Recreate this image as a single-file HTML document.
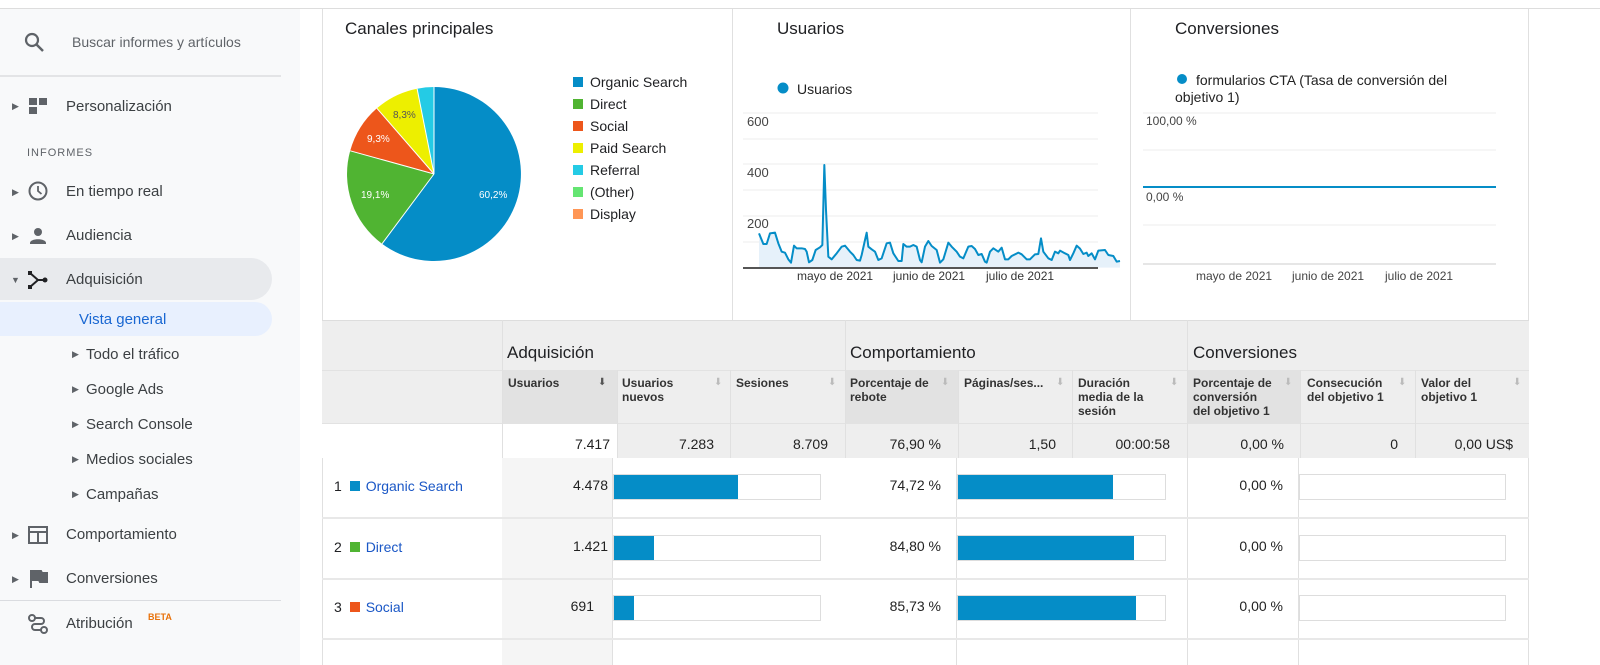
<!DOCTYPE html><html><head><meta charset="utf-8"><style>
*{margin:0;padding:0;box-sizing:border-box}
body{width:1600px;height:665px;overflow:hidden;background:#fff;font-family:"Liberation Sans",sans-serif;color:#202124;position:relative}
.a{position:absolute;white-space:nowrap}
.side{position:absolute;left:0;top:9px;width:300px;height:656px;background:#f8f9fa}
.nav{font-size:15px;color:#3c4043}
.tri{font-size:9px;color:#5f6368}
.h{font-size:12px;font-weight:bold;color:#333;line-height:14px}
.n{font-size:14px;color:#222;text-align:right}
.lnk{color:#1a57c6;font-size:14px}
.bar{position:absolute;height:26px;border:1px solid #ddd;background:#fff}
.bar i{position:absolute;left:0;top:0;bottom:0;background:#058dc7}
.ar{position:absolute;font-size:10px;color:#bbb}
</style></head><body>
<div class="a" style="left:0;top:8px;width:1600px;height:1px;background:#ddd"></div>
<div class="side"></div>
<svg class="a" style="left:24px;top:32px" width="22" height="22"><circle cx="8" cy="8" r="6" fill="none" stroke="#5f6368" stroke-width="2.2"/><line x1="12.5" y1="12.5" x2="19" y2="19" stroke="#5f6368" stroke-width="2.5"/></svg>
<div class="a" style="left:72px;top:34px;font-size:14px;color:#5f6368">Buscar informes y artículos</div>
<div class="a" style="left:0;top:75px;width:281px;height:2px;background:#e3e4e6"></div>
<div class="a tri" style="left:12px;top:101px">▶</div>
<div class="a" style="left:29px;top:98px;width:8px;height:7px;background:#5f6368"></div><div class="a" style="left:39px;top:98px;width:8px;height:7px;background:#5f6368"></div><div class="a" style="left:29px;top:107px;width:8px;height:7px;background:#5f6368"></div>
<div class="a nav" style="left:66px;top:98px">Personalización</div>
<div class="a" style="left:27px;top:147px;font-size:11px;color:#5f6368;letter-spacing:1px">INFORMES</div>
<div class="a tri" style="left:12px;top:187px">▶</div>
<svg class="a" style="left:27px;top:180px" width="22" height="22"><circle cx="11" cy="11" r="8.5" fill="none" stroke="#5f6368" stroke-width="2"/><path d="M11 6v5l3.5 3" fill="none" stroke="#5f6368" stroke-width="1.8"/></svg>
<div class="a nav" style="left:66px;top:183px">En tiempo real</div>
<div class="a tri" style="left:12px;top:231px">▶</div>
<svg class="a" style="left:28px;top:226px" width="20" height="20"><circle cx="10" cy="6" r="4" fill="#5f6368"/><path d="M2 17c0-5 16-5 16 0v1H2z" fill="#5f6368"/></svg>
<div class="a nav" style="left:66px;top:227px">Audiencia</div>
<div class="a" style="left:0;top:258px;width:272px;height:42px;background:#e8eaed;border-radius:0 21px 21px 0"></div>
<div class="a tri" style="left:11px;top:275px">▼</div>
<svg class="a" style="left:27px;top:269px" width="22" height="22"><path d="M3 4l8 7-8 7M11 11h6" fill="none" stroke="#202124" stroke-width="2"/><rect x="1" y="2" width="4" height="4" fill="#202124"/><rect x="1" y="16" width="4" height="4" fill="#202124"/><circle cx="18" cy="11" r="2.5" fill="#202124"/></svg>
<div class="a nav" style="left:66px;top:271px">Adquisición</div>
<div class="a" style="left:0;top:302px;width:272px;height:34px;background:#e8f0fe;border-radius:0 17px 17px 0"></div>
<div class="a" style="left:79px;top:311px;font-size:15px;color:#1967d2">Vista general</div>
<div class="a tri" style="left:72px;top:349px">▶</div><div class="a nav" style="left:86px;top:346px">Todo el tráfico</div>
<div class="a tri" style="left:72px;top:384px">▶</div><div class="a nav" style="left:86px;top:381px">Google Ads</div>
<div class="a tri" style="left:72px;top:419px">▶</div><div class="a nav" style="left:86px;top:416px">Search Console</div>
<div class="a tri" style="left:72px;top:454px">▶</div><div class="a nav" style="left:86px;top:451px">Medios sociales</div>
<div class="a tri" style="left:72px;top:489px">▶</div><div class="a nav" style="left:86px;top:486px">Campañas</div>
<div class="a tri" style="left:12px;top:530px">▶</div>
<svg class="a" style="left:27px;top:524px" width="22" height="22"><rect x="2" y="3" width="18" height="16" fill="none" stroke="#5f6368" stroke-width="2"/><line x1="2" y1="8" x2="20" y2="8" stroke="#5f6368" stroke-width="2"/><line x1="11" y1="8" x2="11" y2="19" stroke="#5f6368" stroke-width="2"/></svg>
<div class="a nav" style="left:66px;top:526px">Comportamiento</div>
<div class="a tri" style="left:12px;top:574px">▶</div>
<svg class="a" style="left:29px;top:569px" width="20" height="20"><path d="M2 1v18M2 2h10l1 2h5v9h-7l-1-2H2" fill="#5f6368" stroke="#5f6368" stroke-width="2"/></svg>
<div class="a nav" style="left:66px;top:570px">Conversiones</div>
<div class="a" style="left:0;top:600px;width:281px;height:1px;background:#dadce0"></div>
<svg class="a" style="left:27px;top:613px" width="22" height="22"><circle cx="5" cy="5" r="3" fill="none" stroke="#5f6368" stroke-width="2"/><circle cx="17" cy="17" r="3" fill="none" stroke="#5f6368" stroke-width="2"/><path d="M8 5h6a3 3 0 010 6H8a3 3 0 000 6h6" fill="none" stroke="#5f6368" stroke-width="2"/></svg>
<div class="a nav" style="left:66px;top:615px">Atribución</div>
<div class="a" style="left:148px;top:612px;font-size:9px;color:#e8710a;font-weight:bold">BETA</div>

<!-- panels -->
<div class="a" style="left:322px;top:9px;width:1207px;height:656px;border-left:1px solid #e0e0e0;border-right:1px solid #e0e0e0"></div>
<div class="a" style="left:732px;top:9px;width:1px;height:311px;background:#e0e0e0"></div>
<div class="a" style="left:1130px;top:9px;width:1px;height:311px;background:#e0e0e0"></div>
<div class="a" style="left:345px;top:19px;font-size:17px">Canales principales</div>
<div class="a" style="left:777px;top:19px;font-size:17px">Usuarios</div>
<div class="a" style="left:1175px;top:19px;font-size:17px">Conversiones</div>
<svg class="a" style="left:0;top:0" width="1600" height="320">
<path d="M434 174L434 87A87 87 0 1 1 382 243.8Z" fill="#058dc7"/>
<path d="M434 174L382 243.8A87 87 0 0 1 350.2 150.8Z" fill="#50b432"/>
<path d="M434 174L350.2 150.8A87 87 0 0 1 376.9 108.3Z" fill="#ed561b"/>
<path d="M434 174L376.9 108.3A87 87 0 0 1 417.1 88.7Z" fill="#edef00"/>
<path d="M434 174L417.1 88.7A87 87 0 0 1 434 87Z" fill="#24cbe5"/>
<g stroke="#fff" stroke-width="1"><line x1="434" y1="174" x2="434" y2="87"/><line x1="434" y1="174" x2="382" y2="243.8"/><line x1="434" y1="174" x2="350.2" y2="150.8"/><line x1="434" y1="174" x2="376.9" y2="108.3"/><line x1="434" y1="174" x2="417.1" y2="88.7"/></g>
<g font-size="10" fill="#fff" font-family="Liberation Sans"><text x="479" y="198">60,2%</text><text x="361" y="198">19,1%</text><text x="367" y="142" >9,3%</text><text x="393" y="118" fill="#555">8,3%</text></g>
<g stroke="#eee" stroke-width="1"><line x1="743" y1="113" x2="1098" y2="113"/><line x1="743" y1="139" x2="1098" y2="139"/><line x1="743" y1="164" x2="1098" y2="164"/><line x1="743" y1="190" x2="1098" y2="190"/><line x1="743" y1="216" x2="1098" y2="216"/><line x1="743" y1="242" x2="1098" y2="242"/></g>
<g font-size="13" fill="#444" font-family="Liberation Sans"><text x="747" y="126">600</text><text x="747" y="177">400</text><text x="747" y="228">200</text></g>
<g transform="translate(735,100) scale(0.33333)">
<polyline fill="#e6f1fa" stroke="none" points="72,503 72,400 85,432 95,432 105,400 120,398 130,430 140,455 150,458 160,478 168,488 177,437 185,445 200,445 210,447 215,455 222,487 232,480 242,450 255,442 262,435 268,195 273,330 280,470 290,478 305,460 320,440 330,437 345,455 355,465 365,480 375,482 380,465 390,420 395,398 400,440 410,448 420,455 430,480 440,475 455,430 465,428 475,460 490,483 500,483 505,432 515,440 525,440 535,435 545,440 555,480 560,487 570,440 580,423 590,438 605,450 615,488 625,478 640,428 650,440 665,455 675,470 685,475 700,440 710,438 720,447 730,465 740,462 750,485 755,488 765,455 775,445 790,455 800,443 810,478 820,478 830,468 850,458 860,463 875,478 885,478 900,463 910,462 918,415 925,455 940,475 950,480 960,455 970,460 975,452 990,460 1000,465 1005,480 1015,460 1025,437 1035,446 1045,462 1055,458 1060,468 1070,460 1080,478 1090,452 1110,450 1120,465 1135,468 1145,485 1155,483 1155,503"/>
<polyline fill="none" stroke="#058dc7" stroke-width="6" stroke-linejoin="round" points="72,400 85,432 95,432 105,400 120,398 130,430 140,455 150,458 160,478 168,488 177,437 185,445 200,445 210,447 215,455 222,487 232,480 242,450 255,442 262,435 268,195 273,330 280,470 290,478 305,460 320,440 330,437 345,455 355,465 365,480 375,482 380,465 390,420 395,398 400,440 410,448 420,455 430,480 440,475 455,430 465,428 475,460 490,483 500,483 505,432 515,440 525,440 535,435 545,440 555,480 560,487 570,440 580,423 590,438 605,450 615,488 625,478 640,428 650,440 665,455 675,470 685,475 700,440 710,438 720,447 730,465 740,462 750,485 755,488 765,455 775,445 790,455 800,443 810,478 820,478 830,468 850,458 860,463 875,478 885,478 900,463 910,462 918,415 925,455 940,475 950,480 960,455 970,460 975,452 990,460 1000,465 1005,480 1015,460 1025,437 1035,446 1045,462 1055,458 1060,468 1070,460 1080,478 1090,452 1110,450 1120,465 1135,468 1145,485 1155,483"/>
</g>
<line x1="743" y1="268" x2="1098" y2="268" stroke="#555" stroke-width="2"/>
<g font-size="12" fill="#333" font-family="Liberation Sans"><text x="797" y="280">mayo de 2021</text><text x="893" y="280">junio de 2021</text><text x="986" y="280">julio de 2021</text></g>
<circle cx="783" cy="88" r="5.5" fill="#058dc7"/>
<text x="797" y="94" font-size="14" font-family="Liberation Sans" fill="#222">Usuarios</text>
<circle cx="1182" cy="79" r="5" fill="#058dc7"/>
<text x="1196" y="85" font-size="14" font-family="Liberation Sans" fill="#222">formularios CTA (Tasa de conversión del</text>
<text x="1175" y="102" font-size="14" font-family="Liberation Sans" fill="#222">objetivo 1)</text>
<g stroke="#eee"><line x1="1143" y1="113" x2="1496" y2="113"/><line x1="1143" y1="150" x2="1496" y2="150"/><line x1="1143" y1="225" x2="1496" y2="225"/></g>
<line x1="1143" y1="187" x2="1496" y2="187" stroke="#058dc7" stroke-width="2"/>
<line x1="1143" y1="264" x2="1496" y2="264" stroke="#ccc"/>
<g font-size="12" fill="#444" font-family="Liberation Sans"><text x="1146" y="125">100,00 %</text><text x="1146" y="201">0,00 %</text><text x="1196" y="280">mayo de 2021</text><text x="1292" y="280">junio de 2021</text><text x="1385" y="280">julio de 2021</text></g>
</svg>
<!-- legend -->
<div class="a" style="left:573px;top:71px;font-size:14px;line-height:22px">
<div><span style="display:inline-block;width:10px;height:10px;background:#058dc7;margin-right:7px"></span>Organic Search</div>
<div><span style="display:inline-block;width:10px;height:10px;background:#50b432;margin-right:7px"></span>Direct</div>
<div><span style="display:inline-block;width:10px;height:10px;background:#ed561b;margin-right:7px"></span>Social</div>
<div><span style="display:inline-block;width:10px;height:10px;background:#edef00;margin-right:7px"></span>Paid Search</div>
<div><span style="display:inline-block;width:10px;height:10px;background:#24cbe5;margin-right:7px"></span>Referral</div>
<div><span style="display:inline-block;width:10px;height:10px;background:#64e572;margin-right:7px"></span>(Other)</div>
<div><span style="display:inline-block;width:10px;height:10px;background:#ff9655;margin-right:7px"></span>Display</div>
</div>

<!-- table -->
<div class="a" style="left:322px;top:320px;width:1207px;height:138px;background:#eee;border-top:1px solid #ddd"></div>
<div class="a" style="left:502px;top:423px;width:115px;height:35px;background:#fff"></div>
<div class="a" style="left:322px;top:423px;width:180px;height:35px;background:#fff"></div>
<div class="a" style="left:322px;top:370px;width:1207px;height:1px;background:#e2e2e2"></div>
<div class="a" style="left:322px;top:423px;width:1207px;height:1px;background:#e2e2e2"></div>
<div class="a" style="left:502px;top:370px;width:115px;height:53px;background:#e2e2e2"></div>
<div class="a" style="left:845px;top:370px;width:113px;height:53px;background:#e2e2e2"></div>
<div class="a" style="left:1187px;top:370px;width:113px;height:53px;background:#e2e2e2"></div>
<div class="a" style="left:507px;top:343px;font-size:17px">Adquisición</div>
<div class="a" style="left:850px;top:343px;font-size:17px">Comportamiento</div>
<div class="a" style="left:1193px;top:343px;font-size:17px">Conversiones</div>
<div class="a h" style="left:508px;top:376px">Usuarios</div><div class="ar" style="left:598px;top:377px;color:#555">⬇</div>
<div class="a h" style="left:622px;top:376px">Usuarios<br>nuevos</div><div class="ar" style="left:714px;top:377px">⬇</div>
<div class="a h" style="left:736px;top:376px">Sesiones</div><div class="ar" style="left:828px;top:377px">⬇</div>
<div class="a h" style="left:850px;top:376px">Porcentaje de<br>rebote</div><div class="ar" style="left:941px;top:377px">⬇</div>
<div class="a h" style="left:964px;top:376px">Páginas/ses...</div><div class="ar" style="left:1056px;top:377px">⬇</div>
<div class="a h" style="left:1078px;top:376px">Duración<br>media de la<br>sesión</div><div class="ar" style="left:1170px;top:377px">⬇</div>
<div class="a h" style="left:1193px;top:376px">Porcentaje de<br>conversión<br>del objetivo 1</div><div class="ar" style="left:1284px;top:377px">⬇</div>
<div class="a h" style="left:1307px;top:376px">Consecución<br>del objetivo 1</div><div class="ar" style="left:1398px;top:377px">⬇</div>
<div class="a h" style="left:1421px;top:376px">Valor del<br>objetivo 1</div><div class="ar" style="left:1513px;top:377px">⬇</div>
<!-- column lines -->
<div class="a" style="left:502px;top:320px;width:1px;height:345px;background:#e0e0e0"></div>
<div class="a" style="left:845px;top:320px;width:1px;height:345px;background:#e0e0e0"></div>
<div class="a" style="left:1187px;top:320px;width:1px;height:345px;background:#e0e0e0"></div>
<div class="a" style="left:617px;top:370px;width:1px;height:88px;background:#e0e0e0"></div>
<div class="a" style="left:730px;top:370px;width:1px;height:88px;background:#e0e0e0"></div>
<div class="a" style="left:958px;top:370px;width:1px;height:88px;background:#e0e0e0"></div>
<div class="a" style="left:1072px;top:370px;width:1px;height:88px;background:#e0e0e0"></div>
<div class="a" style="left:1300px;top:370px;width:1px;height:88px;background:#e0e0e0"></div>
<div class="a" style="left:1415px;top:370px;width:1px;height:88px;background:#e0e0e0"></div>
<!-- totals -->
<div class="a n" style="left:502px;top:436px;width:108px">7.417</div>
<div class="a n" style="left:617px;top:436px;width:97px">7.283</div>
<div class="a n" style="left:730px;top:436px;width:98px">8.709</div>
<div class="a n" style="left:845px;top:436px;width:96px">76,90 %</div>
<div class="a n" style="left:958px;top:436px;width:98px">1,50</div>
<div class="a n" style="left:1072px;top:436px;width:98px">00:00:58</div>
<div class="a n" style="left:1187px;top:436px;width:97px">0,00 %</div>
<div class="a n" style="left:1300px;top:436px;width:98px">0</div>
<div class="a n" style="left:1415px;top:436px;width:98px">0,00 US$</div>
<!-- rows -->
<div class="a" style="left:502px;top:458px;width:111px;height:207px;background:#f5f5f5"></div>
<div class="a" style="left:845px;top:458px;width:113px;height:207px;background:#fff"></div>
<div class="a" style="left:612px;top:458px;width:1px;height:207px;background:#e0e0e0"></div>
<div class="a" style="left:956px;top:458px;width:1px;height:207px;background:#e0e0e0"></div>
<div class="a" style="left:1298px;top:458px;width:1px;height:207px;background:#e0e0e0"></div>
<div class="a" style="left:322px;top:517px;width:1207px;height:2px;background:#e8e8e8"></div>
<div class="a" style="left:322px;top:578px;width:1207px;height:2px;background:#e8e8e8"></div>
<div class="a" style="left:322px;top:638px;width:1207px;height:2px;background:#e8e8e8"></div>

<div class="a" style="left:334px;top:478px;font-size:14px">1 <span style="display:inline-block;width:10px;height:10px;background:#058dc7;margin:0 6px 0 4px"></span><span class="lnk">Organic Search</span></div>
<div class="a" style="left:334px;top:539px;font-size:14px">2 <span style="display:inline-block;width:10px;height:10px;background:#50b432;margin:0 6px 0 4px"></span><span class="lnk">Direct</span></div>
<div class="a" style="left:334px;top:599px;font-size:14px">3 <span style="display:inline-block;width:10px;height:10px;background:#ed561b;margin:0 6px 0 4px"></span><span class="lnk">Social</span></div>
<div class="a n" style="left:502px;top:477px;width:106px">4.478</div>
<div class="a n" style="left:502px;top:538px;width:106px">1.421</div>
<div class="a n" style="left:502px;top:598px;width:92px">691</div>
<div class="bar" style="left:613px;top:474px;width:208px"><i style="width:124px"></i></div>
<div class="bar" style="left:613px;top:535px;width:208px"><i style="width:40px"></i></div>
<div class="bar" style="left:613px;top:595px;width:208px"><i style="width:20px"></i></div>
<div class="a n" style="left:845px;top:477px;width:96px">74,72 %</div>
<div class="a n" style="left:845px;top:538px;width:96px">84,80 %</div>
<div class="a n" style="left:845px;top:598px;width:96px">85,73 %</div>
<div class="bar" style="left:957px;top:474px;width:209px"><i style="width:155px"></i></div>
<div class="bar" style="left:957px;top:535px;width:209px"><i style="width:176px"></i></div>
<div class="bar" style="left:957px;top:595px;width:209px"><i style="width:178px"></i></div>
<div class="a n" style="left:1187px;top:477px;width:96px">0,00 %</div>
<div class="a n" style="left:1187px;top:538px;width:96px">0,00 %</div>
<div class="a n" style="left:1187px;top:598px;width:96px">0,00 %</div>
<div class="bar" style="left:1299px;top:474px;width:207px"></div>
<div class="bar" style="left:1299px;top:535px;width:207px"></div>
<div class="bar" style="left:1299px;top:595px;width:207px"></div>
</body></html>
